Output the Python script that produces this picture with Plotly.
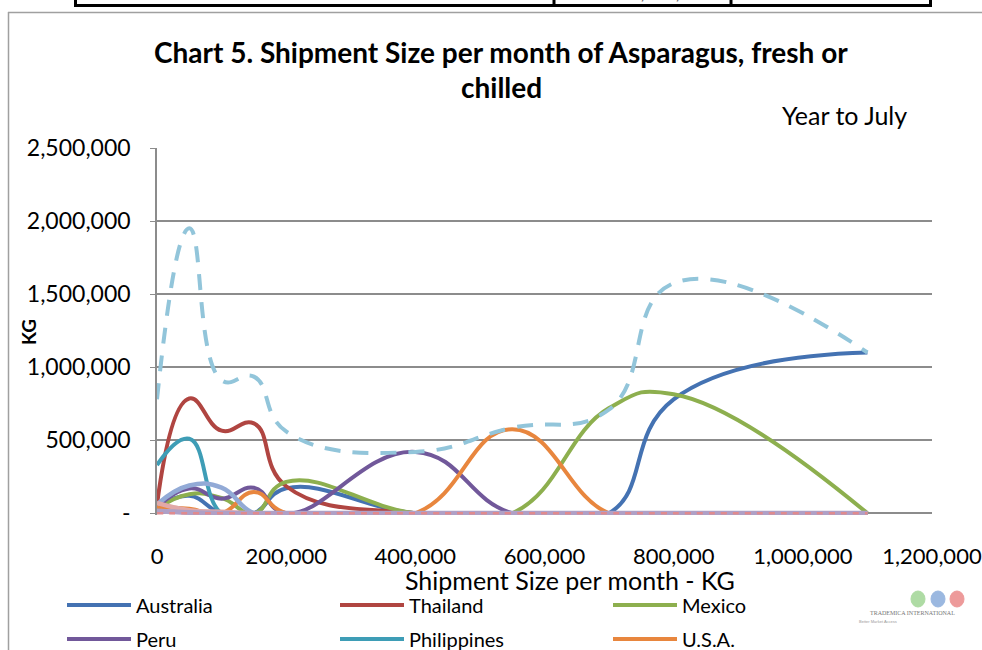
import plotly.graph_objects as go

# ---------------- data ----------------
sizes = [0, 50000, 100000, 150000, 200000, 400000, 550000, 700000, 800000, 1100000]

australia   = [40000, 120000, 0, 0, 170000, 0, 0, 0, 780000, 1100000]
thailand    = [60000, 785000, 565000, 615000, 185000, 0, 0, 0, 0, 0]
mexico      = [30000, 130000, 105000, 0, 215000, 0, 0, 720000, 815000, 0]
peru        = [40000, 170000, 100000, 175000, 0, 420000, 0, 0, 0, 0]
philippines = [330000, 510000, 0, 0, 0, 0, 0, 0, 0, 0]
usa         = [45000, 30000, 0, 145000, 0, 0, 575000, 0, 0, 0]
series7     = [60000, 190000, 175000, 0, 0, 0, 0, 0, 0, 0]
series8     = [70000, 20000, 10000, 0, 0, 0, 0, 0, 0, 0]
series9     = [15000, 5000, 0, 0, 0, 0, 0, 0, 0, 0]
series10    = [0, 0, 0, 0, 0, 0, 0, 0, 0, 0]
total       = [780000, 1950000, 910000, 935000, 560000, 420000, 585000, 710000, 1575000, 1100000]

x_tick_vals = [0, 200000, 400000, 600000, 800000, 1000000, 1200000]
x_tick_text = ["0", "200,000", "400,000", "600,000", "800,000", "1,000,000", "1,200,000"]
y_tick_vals = [0, 500000, 1000000, 1500000, 2000000, 2500000]
y_tick_text = ["-", "500,000", "1,000,000", "1,500,000", "2,000,000", "2,500,000"]

FONT = "Lato"
SMOOTH = 1.3

# plot area in pixels
L, R, T, B = 157, 932, 148, 515
W, H = R - L, B - T


def px(x):
    return (x - L) / W


def py(y):
    return (B - y) / H


fig = go.Figure()

main = [
    ("Australia", australia, "#4472B2", "legend"),
    ("Thailand", thailand, "#B04541", "legend"),
    ("Mexico", mexico, "#8DAF4E", "legend"),
    ("Peru", peru, "#71589A", "legend2"),
    ("Philippines", philippines, "#3E9DB6", "legend2"),
    ("U.S.A.", usa, "#E8863E", "legend2"),
]
others = [
    ("Series 7", series7, "#92AAD6", "solid", 4.5),
    ("Series 8", series8, "#E2A9A8", "solid", 4.5),
    ("Series 9", series9, "#AFA0C6", "solid", 5),
    ("Series 10", series10, "#E08A8E", "6px,6px", 2.5),
]

for name, vals, col, lg in main:
    fig.add_trace(go.Scatter(x=sizes, y=vals, name=name, mode="lines",
                             line=dict(color=col, width=4, shape="spline", smoothing=SMOOTH),
                             legend=lg))
for name, vals, col, dash, w in others:
    fig.add_trace(go.Scatter(x=sizes, y=vals, name=name, mode="lines", showlegend=False,
                             line=dict(color=col, width=w, shape="spline", smoothing=SMOOTH, dash=dash)))
fig.add_trace(go.Scatter(x=sizes, y=total, name="Total", mode="lines", showlegend=False,
                         line=dict(color="#92C5DA", width=4, shape="spline", smoothing=SMOOTH,
                                   dash="16px,12px")))

shapes = []
# chart area border (cut by the page edges)
shapes.append(dict(type="line", xref="paper", yref="paper", x0=px(8), x1=px(990), y0=py(12.5), y1=py(12.5),
                   line=dict(color="#A0A0A0", width=1.5)))
shapes.append(dict(type="line", xref="paper", yref="paper", x0=px(8.5), x1=px(8.5), y0=py(12), y1=py(660),
                   line=dict(color="#A0A0A0", width=1.5)))
# fragment of the table above the chart
shapes.append(dict(type="line", xref="paper", yref="paper", x0=px(74), x1=px(932), y0=py(5.5), y1=py(5.5),
                   line=dict(color="black", width=3)))
for vx in [75.5, 554, 731, 930.5]:
    shapes.append(dict(type="line", xref="paper", yref="paper", x0=px(vx), x1=px(vx), y0=py(-5), y1=py(6.5),
                       line=dict(color="black", width=3)))
# logo globes
for cx, col in [(918, "#6DBE5A"), (938, "#4A7FC8"), (957, "#E04848")]:
    shapes.append(dict(type="circle", xref="paper", yref="paper",
                       x0=px(cx - 7), x1=px(cx + 7), y0=py(607), y1=py(591),
                       line=dict(color=col, width=1), fillcolor=col, opacity=0.55))

annotations = [
    dict(text="<b>Chart 5. Shipment Size per month of Asparagus, fresh or</b>", x=px(501), y=py(52),
         xref="paper", yref="paper", showarrow=False, font=dict(family=FONT, size=28, color="black"),
         xanchor="center", yanchor="middle"),
    dict(text="<b>chilled</b>", x=px(501), y=py(87),
         xref="paper", yref="paper", showarrow=False, font=dict(family=FONT, size=28, color="black"),
         xanchor="center", yanchor="middle"),
    dict(text="Year to July", x=px(909), y=py(115), xref="paper", yref="paper", showarrow=False,
         font=dict(family=FONT, size=25, color="black"), xanchor="right", yanchor="middle"),
    dict(text="<b>KG</b>", x=px(28), y=py(332), xref="paper", yref="paper", showarrow=False, textangle=-90,
         font=dict(family=FONT, size=19, color="black"), xanchor="center", yanchor="middle"),
    dict(text="Shipment Size per month - KG", x=px(570), y=py(580), xref="paper", yref="paper",
         showarrow=False, font=dict(family=FONT, size=25, color="black"), xanchor="center", yanchor="middle"),
    dict(text="8,394,833", x=px(712), y=py(-6.5), xref="paper", yref="paper", showarrow=False,
         font=dict(family="Liberation Sans", size=18, color="#555555"), xanchor="right", yanchor="middle"),
    dict(text="52.3%", x=px(915), y=py(-6.5), xref="paper", yref="paper", showarrow=False,
         font=dict(family="Liberation Sans", size=18, color="#555555"), xanchor="right", yanchor="middle"),
    dict(text="TRADEMICA INTERNATIONAL", x=px(912), y=py(613), xref="paper", yref="paper", showarrow=False,
         font=dict(family="Liberation Serif", size=6, color="#777777"), xanchor="center", yanchor="middle"),
    dict(text="Better Market Access", x=px(878), y=py(621), xref="paper", yref="paper", showarrow=False,
         font=dict(family="Liberation Sans", size=4, color="#999999"), xanchor="center", yanchor="middle"),
]

legend_common = dict(orientation="h", xanchor="left", yanchor="middle", entrywidth=194,
                     entrywidthmode="pixels", itemwidth=64, bgcolor="rgba(0,0,0,0)",
                     font=dict(family=FONT, size=20, color="black"), traceorder="normal")

fig.update_layout(
    width=982, height=650,
    margin=dict(l=L, r=982 - R, t=T, b=650 - B, pad=0, autoexpand=False),
    paper_bgcolor="white", plot_bgcolor="white",
    showlegend=True,
    legend=dict(x=px(62), y=py(605), **legend_common),
    legend2=dict(x=px(62), y=py(639), **legend_common),
    shapes=shapes, annotations=annotations,
    xaxis=dict(range=[0, 1200000], tickvals=x_tick_vals, ticktext=x_tick_text, showgrid=False,
               zeroline=False, showline=False, ticks="", ticklabelstandoff=26, automargin=False,
               ticklabeloverflow="allow",
               tickfont=dict(family=FONT, size=22, color="black")),
    yaxis=dict(range=[-12000, 2500000], tickvals=y_tick_vals, ticktext=y_tick_text, showgrid=True,
               gridcolor="#8C8C8C", gridwidth=1.5, zeroline=False, showline=True, linecolor="#8C8C8C",
               linewidth=1.5, ticks="outside", ticklen=5, tickcolor="#8C8C8C", ticklabelstandoff=15,
               automargin=False, tickfont=dict(family=FONT, size=23, color="black")),
)

fig.write_html("out.html", config={"displayModeBar": False},
               post_script="document.body.style.margin='0px';document.body.style.overflow='hidden';")
